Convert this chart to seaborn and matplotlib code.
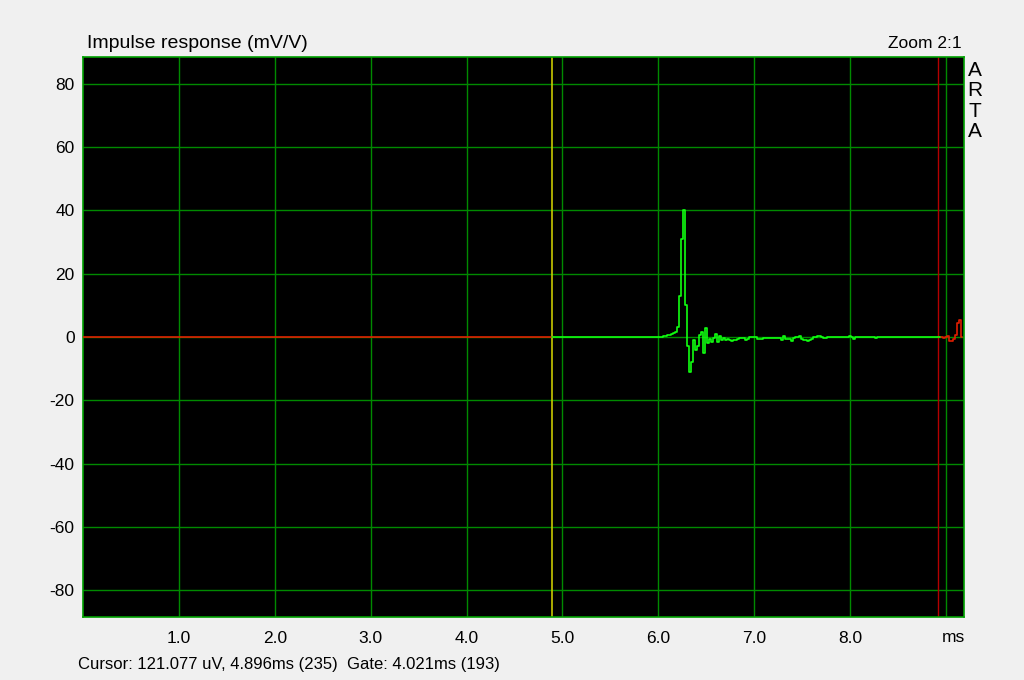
import numpy as np
import pandas as pd
import matplotlib
matplotlib.use("Agg")
import matplotlib.pyplot as plt
import seaborn as sns

# Datos (ARTA, respuesta al impulso, 48 kHz)
sample_rate_khz = 48
cursor_ms = 4.896
gate_ms = 4.021
lead_zero_samples = 290  # tramo plano en 0 antes del impulso

# muestras 290..440 en mV/V
response_mv = (
    [0.0, 0.3, 0.3, 0.5, 0.6, 1.0, 1.2, 1.6, 3.3, 13.0,
     31.0, 40.0, 10.0, -3.0, -11.0, -8.0, -1.0, -4.0, -3.0, 0.5,
     1.5, -5.0, 2.8, -2.0, -0.5, -1.5, -0.3, 0.8, -1.5, 0.3,
     -1.0, -0.3, -0.8, -0.5, -1.0, -1.2, -0.8, -1.1, -0.6, -0.4,
     -0.4, -0.4, -0.9, -0.5, 0.0, 0.0, 0.0, 0.0, -0.6, -0.6,
     -0.6, -0.4, -0.4, -0.4, -0.2, -0.2, -0.3, -0.3, -0.3, -0.3,
     -0.9, 0.3, -0.7, -0.7, -0.7, -1.4, -0.4, -0.1, -0.1, 0.2,
     -0.7, -0.9, -0.9, -1.4, -1.0, -0.6, -0.1, -0.1, 0.3, 0.2,
     -0.1, -0.2, -0.4, -0.1, 0.0]
    + [0.0] * 9
    + [0.3, 0.0, -0.6, 0.0]
    + [0.0] * 9
    + [-0.4]
    + [0.0] * 33
    + [-0.3, 0.0, 0.2, -1.2, -1.2, -0.7, 0.6, 4.5, 5.4, 0.0]
)

y_ticks = [-80, -60, -40, -20, 0, 20, 40, 60, 80]
x_ticks = [1, 2, 3, 4, 5, 6, 7, 8, 9]
x_labels = ["1.0", "2.0", "3.0", "4.0", "5.0", "6.0", "7.0", "8.0", ""]

values = np.array([0.0] * lead_zero_samples + response_mv)
df = pd.DataFrame({"t": np.arange(len(values)) / sample_rate_khz, "v": values})
gate_end = cursor_ms + gate_ms

BG = "#f0f0f0"
GRID = "#008a00"
TRACE_G = "#10ff10"
TRACE_R = "#e01e00"

sns.set_style("white")
plt.rcParams["font.family"] = ["Liberation Sans", "DejaVu Sans"]
plt.rcParams["text.color"] = "black"

fig = plt.figure(figsize=(10.24, 6.8), dpi=100, facecolor=BG)
ax = fig.add_axes([83 / 1024, 1 - 617 / 680, 881 / 1024, 560 / 680])
ax.set_facecolor("black")

ax.set_xlim(0, 9.1875)
ax.set_ylim(-88.5, 88.5)
ax.set_xticks(x_ticks)
ax.set_xticklabels(x_labels)
ax.set_yticks(y_ticks)
ax.set_yticklabels([str(v) for v in y_ticks])
ax.grid(True, color=GRID, linewidth=1.0)
ax.set_axisbelow(True)
ax.tick_params(length=0, labelsize=12.5, colors="black", pad=6)
ax.tick_params(axis="x", pad=10)
for s in ax.spines.values():
    s.set_color("#00a000")
    s.set_linewidth(1.2)

# marcadores de cursor y fin de ventana
ax.axvline(cursor_ms, color="#c8c800", lw=1.2, zorder=2)
ax.axvline(gate_end, color="#b40000", lw=1.0, zorder=2)

dt = 1 / sample_rate_khz
pre = df[df.t <= cursor_ms + dt]
mid = df[(df.t >= cursor_ms - dt) & (df.t <= gate_end + dt)]
post = df[df.t >= gate_end - dt]
kw = dict(x="t", y="v", lw=1.2, ax=ax, drawstyle="steps-mid")
sns.lineplot(data=pre, color=TRACE_R, zorder=3, **kw)
sns.lineplot(data=post, color=TRACE_R, zorder=3, **kw)
sns.lineplot(data=mid, color=TRACE_G, zorder=4, **kw)
ax.set_xlabel("")
ax.set_ylabel("")

fig.text(87 / 1024, 1 - 43 / 680, "Impulse response (mV/V)", fontsize=14,
         va="center", ha="left")
fig.text(962 / 1024, 1 - 44 / 680, "Zoom 2:1", fontsize=12.5, va="center", ha="right")
fig.text(975 / 1024, 1 - 101 / 680, "A\nR\nT\nA", fontsize=15, va="center",
         ha="center", linespacing=1.08)
fig.text(953 / 1024, 1 - 637 / 680, "ms", fontsize=12.5, va="center", ha="center")
fig.text(78 / 1024, 1 - 664 / 680,
         "Cursor: 121.077 uV, 4.896ms (235)  Gate: 4.021ms (193)",
         fontsize=12, va="center", ha="left")

fig.savefig("out.png", dpi=100, facecolor=BG)
